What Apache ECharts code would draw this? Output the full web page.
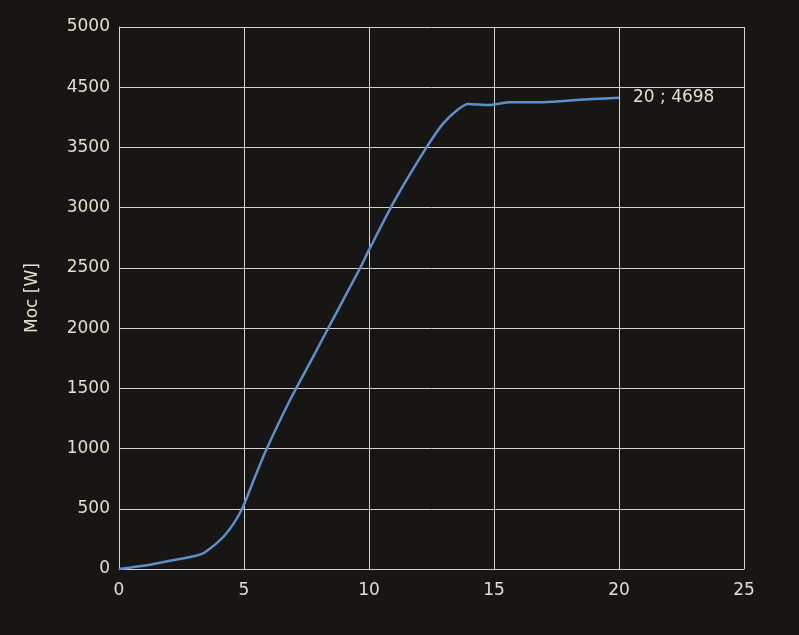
<!DOCTYPE html>
<html>
<head>
<meta charset="utf-8">
<script src="https://cdn.jsdelivr.net/npm/echarts@6/dist/echarts.min.js"></script>
<style>
html,body{margin:0;padding:0;background:#181614;}
#chart{width:799px;height:635px;}
</style>
</head>
<body>
<div id="chart"></div>
<script>
// Data (y in grid units of the drawn axis)
var xValues = [0, 1.17, 2.04, 3.04, 3.44, 4.24, 4.9, 5.44, 5.9, 6.84, 7.71, 8.37, 9.64, 10, 11.04, 12.3, 12.97, 13.57, 13.97, 14.77, 15.64, 16.84, 17.9, 18.97, 20];
var yValues = [0, 33, 69, 108, 139, 282, 490, 766, 994, 1403, 1741, 2000, 2497, 2649, 3064, 3500, 3700, 3817, 3861, 3852, 3875, 3875, 3888, 3902, 3913];
var yTickLabels = ['0', '500', '1000', '1500', '2000', '2500', '3000', '3500', '4500', '5000'];
var xTickLabels = ['0', '5', '10', '15', '20', '25'];
var endLabelText = '20 ; 4698';
var yAxisName = 'Moc [W]';

var textColor = '#e6dccb';
var gridColor = '#d2d2d2';
var fontFamily = 'DejaVu Sans';

var seriesData = xValues.map(function (x, i) { return [x, yValues[i]]; });

var chart = echarts.init(document.getElementById('chart'), null, { renderer: 'canvas' });
chart.setOption({
  backgroundColor: '#181614',
  animation: false,
  grid: { left: 119, top: 27, right: 55, bottom: 66, containLabel: false },
  xAxis: {
    type: 'value',
    min: 0, max: 25, interval: 5,
    axisLine: { show: true, lineStyle: { color: gridColor, width: 1 } },
    axisTick: { show: false },
    splitLine: { show: true, lineStyle: { color: gridColor, width: 1 } },
    axisLabel: {
      color: textColor, fontSize: 17, fontFamily: fontFamily, margin: 13,
      formatter: function (v) { return xTickLabels[Math.round(v / 5)]; }
    }
  },
  yAxis: {
    type: 'value',
    min: 0, max: 4500, interval: 500,
    name: yAxisName,
    nameLocation: 'middle',
    nameGap: 78,
    nameRotate: 90,
    nameTextStyle: { color: textColor, fontSize: 17, fontFamily: fontFamily },
    axisLine: { show: true, lineStyle: { color: gridColor, width: 1 } },
    axisTick: { show: false },
    splitLine: { show: true, lineStyle: { color: gridColor, width: 1 } },
    axisLabel: {
      color: textColor, fontSize: 17, fontFamily: fontFamily, margin: 9,
      formatter: function (v) { return yTickLabels[Math.round(v / 500)]; }
    }
  },
  series: [{
    type: 'line',
    data: seriesData,
    smooth: 0.25,
    showSymbol: false,
    symbol: 'none',
    lineStyle: { color: '#5b90cb', width: 2.5 },
    itemStyle: { color: '#5b90cb' },
    endLabel: {
      show: true,
      distance: 14,
      formatter: endLabelText,
      color: textColor,
      fontSize: 17,
      fontFamily: fontFamily
    }
  }]
});
</script>
</body>
</html>
